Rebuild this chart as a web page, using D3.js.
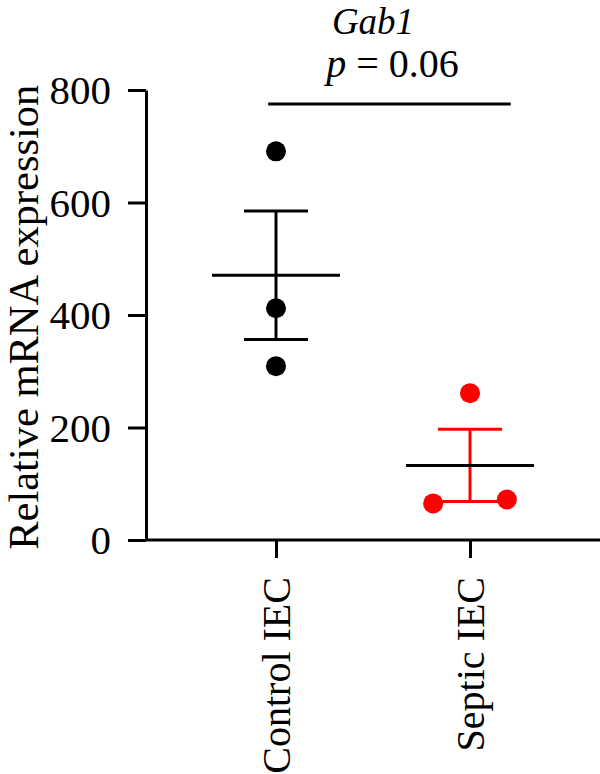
<!DOCTYPE html>
<html lang="en">
	<head>
		<meta charset="utf-8">
		<title>Gab1 expression</title>
		<script type="text/javascript" src="https://cdn.jsdelivr.net/npm/d3@7"></script>
		<style type="text/css">
			body{
				margin: 0;
				background: #fff;
			}
			text{
				font-family: "Liberation Serif", "DejaVu Serif", serif;
				fill: #000;
			}
		</style>
	</head>
	<body>
		<script type="text/javascript">

			// groups and measured values
			var groups = ["Control IEC", "Septic IEC"];
			var controlValues = [691, 412, 309];
			var septicValues = [261, 65, 72];
			var septicJitter = [0, -0.19, 0.19];   // fraction of a step
			var yTicks = [0, 200, 400, 600, 800];
			var pText = "p = 0.06";
			var gene = "Gab1";

			var w = 600;
			var h = 774;

			var svg = d3.select("body")
						.append("svg")
						.attr("width", w)
						.attr("height", h);

			var x = d3.scalePoint()
						.domain(groups)
						.range([146, 600])
						.padding(0.67);

			var y = d3.scaleLinear()
						.domain([0, 800])
						.range([540, 90]);

			var step = x.step();

			// y axis
			var yAxis = svg.append("g")
						.attr("transform", "translate(146,0)")
						.call(d3.axisLeft(y).tickValues(yTicks).tickSize(18).tickPadding(17).tickSizeOuter(0));
			yAxis.selectAll("path, line").attr("stroke", "#000").attr("stroke-width", 3);
			yAxis.selectAll("text").style("font-size", "41px").attr("dy", "0.34em");

			// x axis
			var xAxis = svg.append("g")
						.attr("transform", "translate(0,540)")
						.call(d3.axisBottom(x).tickSize(18).tickSizeOuter(0));
			xAxis.select(".domain").attr("d", "M146,0H600");
			xAxis.selectAll("path, line").attr("stroke", "#000").attr("stroke-width", 3);
			xAxis.selectAll("text")
				.style("font-size", "40px")
				.attr("text-anchor", "end")
				.attr("transform", "rotate(-90)")
				.attr("x", -37)
				.attr("y", 0)
				.attr("dy", "0.33em");

			// y label
			svg.append("text")
				.attr("transform", "translate(38," + y(396) + ") rotate(-90)")
				.attr("text-anchor", "middle")
				.style("font-size", "42.5px")
				.text("Relative mRNA expression");

			function mean(a){ return d3.mean(a); }
			function sem(a){ return d3.deviation(a) / Math.sqrt(a.length); }

			var sets = [
				{g: groups[0], vals: controlValues, jit: [0, 0, 0], color: "#000"},
				{g: groups[1], vals: septicValues, jit: septicJitter, color: "#ff0000"}
			];

			sets.forEach(function(s){
				var cx = x(s.g);
				var m = mean(s.vals);
				var e = sem(s.vals);

				// error bar
				svg.append("line")
					.attr("x1", cx).attr("x2", cx)
					.attr("y1", y(m + e)).attr("y2", y(m - e))
					.attr("stroke", s.color).attr("stroke-width", 3);
				[m + e, m - e].forEach(function(v){
					svg.append("line")
						.attr("x1", cx - 32).attr("x2", cx + 32)
						.attr("y1", y(v)).attr("y2", y(v))
						.attr("stroke", s.color).attr("stroke-width", 3);
				});

				// points
				svg.selectAll(null)
					.data(s.vals)
					.enter()
					.append("circle")
					.attr("cx", function(d, i){ return cx + s.jit[i] * step; })
					.attr("cy", function(d){ return y(d); })
					.attr("r", 10)
					.attr("fill", s.color);

				// mean line (always black)
				svg.append("line")
					.attr("x1", cx - 64).attr("x2", cx + 64)
					.attr("y1", y(m)).attr("y2", y(m))
					.attr("stroke", "#000").attr("stroke-width", 3);
			});

			// significance bar
			var bx1 = x(groups[0]) - 0.04 * step;
			var bx2 = x(groups[1]) + 0.21 * step;
			svg.append("line")
				.attr("x1", bx1).attr("x2", bx2)
				.attr("y1", y(775)).attr("y2", y(775))
				.attr("stroke", "#000").attr("stroke-width", 3);

			var pLabel = svg.append("text")
				.attr("x", (bx1 + bx2) / 2 + 3)
				.attr("y", 77)
				.attr("text-anchor", "middle")
				.style("font-size", "40px");
			pLabel.append("tspan").style("font-style", "italic").text(pText.split(" ")[0]);
			pLabel.append("tspan").text(" " + pText.split(" ").slice(1).join(" "));

			svg.append("text")
				.attr("x", (x(groups[0]) + x(groups[1])) / 2)
				.attr("y", 34)
				.attr("text-anchor", "middle")
				.style("font-size", "37px")
				.style("font-style", "italic")
				.text(gene);

		</script>
	</body>
</html>
